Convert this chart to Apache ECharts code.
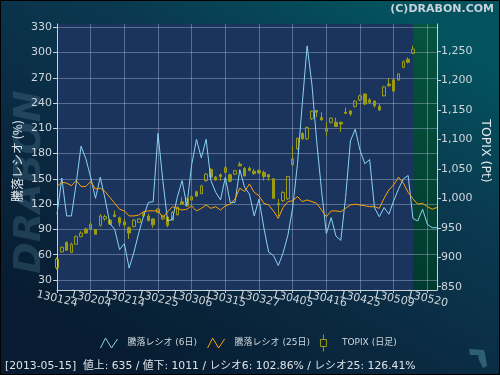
<!DOCTYPE html>
<html>
<head>
<meta charset="utf-8">
<script src="https://cdn.jsdelivr.net/npm/echarts@6/dist/echarts.min.js"></script>
<style>html,body{margin:0;padding:0;background:#081d30;}#c{width:500px;height:375px;}</style>
</head>
<body>
<div id="c"></div>
<script>
// ---- data ----
const dates = ['130124','130125','130128','130129','130130','130131','130201','130204','130205','130206','130207','130208','130212','130213','130214','130215','130218','130219','130220','130221','130222','130225','130226','130227','130228','130301','130304','130305','130306','130307','130308','130311','130312','130313','130314','130315','130318','130319','130321','130322','130325','130326','130327','130328','130329','130401','130402','130403','130404','130405','130408','130409','130410','130411','130412','130415','130416','130417','130418','130419','130422','130423','130424','130425','130426','130430','130501','130502','130507','130508','130509','130510','130513','130514','130515','130516','130517','130520','130521','130522'];
const ratio6 = [108,151,106,106,145,189,174,152,127,152,126,97,90,66,73,44,63,86,106,122,123,204,148,100,102,128,148,118,167,197,175,197,148,134,125,152,122,122,161,140,132,106,126,92,63,59,47,62,83,116,168,240,308,262,194,136,85,104,82,77,128,195,209,184,168,173,116,105,116,108,124,138,150,154,103,100,114,96,92,92];
const ratio25 = [141,146,145,142,148,141,141,147,138,139,135,128,121,114,112,106,106,107,111,112,112,112,104,111,117,115,113,114,118,112,115,119,115,117,113,118,120,126,139,135,144,134,130,121,119,112,103,116,123,124,129,123,125,123,121,113,105,112,112,111,115,119,120,119,118,117,117,115,127,137,143,152,145,134,126.4,120,121,117,114,116];
// TOPIX daily: [open, close, low, high]
const topix = [
[882,897,879,900],[909,917,908,918],[925,912,911,927],[908,922,908,925],[922,935,922,937],
[935,941,934,944],[948,941,940,950],[948,956,947,959],[947,939,939,948],[954,970,952,973],
[965,969,962,972],[963,956,955,965],[972,969,969,979],[967,958,952,969],[960,955,951,965],
[950,941,931,952],[952,963,951,965],[959,965,958,966],[970,974,969,977],[970,962,961,974],
[965,955,950,966],[976,982,975,983],[965,970,963,972],[968,954,951,969],[963,976,962,978],
[972,985,971,986],[994,990,990,1002],[987,999,986,1000],[997,1003,996,1005],[1011,1004,1002,1013],
[1008,1021,1007,1023],[1030,1041,1028,1043],[1049,1036,1034,1051],[1036,1031,1030,1038],[1040,1037,1030,1042],
[1044,1052,1042,1055],[1040,1029,1027,1042],[1041,1047,1040,1048],[1058,1055,1055,1062],[1051,1038,1037,1053],
[1051,1047,1046,1054],[1046,1042,1040,1050],[1047,1043,1042,1049],[1044,1037,1030,1047],[1040,1036,1030,1041],
[1033,1000,999,1034],[991,989,970,999],[996,1010,994,1012],[999,1037,997,1038],[1057,1067,1055,1089],
[1084,1102,1082,1103],[1110,1101,1099,1112],[1101,1120,1099,1122],[1135,1148,1133,1149],[1149,1146,1138,1150],
[1137,1133,1132,1146],[1114,1119,1106,1129],[1129,1136,1127,1137],[1129,1122,1121,1137],[1129,1126,1113,1130],
[1146,1144,1143,1154],[1148,1143,1140,1150],[1156,1165,1154,1166],[1167,1174,1165,1176],[1177,1160,1158,1178],
[1167,1163,1160,1170],[1165,1157,1154,1166],[1156,1150,1148,1160],[1174,1189,1173,1191],[1194,1191,1189,1204],
[1201,1182,1180,1202],[1201,1211,1199,1212],[1222,1232,1221,1234],[1236,1231,1229,1239],[1246,1253,1246,1259]
];
const dateTicksA = [0,14,28,42,56,70];   // labelled dates (first set)
const dateTicksB = [7,21,35,49,63,77];   // labelled dates (second set)
const leftTicks = [30,60,90,120,150,180,210,240,270,300,330];
const rightTicks = [850,900,950,1000,1050,1100,1150,1200,1250];
const lastDate = '130515';
const footerText = '[2013-05-15]  値上: 635 / 値下: 1011 / レシオ6: 102.86% / レシオ25: 126.41%';
const seriesNames = ['騰落レシオ (6日)', '騰落レシオ (25日)', 'TOPIX (日足)'];

// ---- style ----
const FONT = "'DejaVu Sans', 'Noto Sans CJK JP', sans-serif";
const TXT = '#cfd6dc';
const AXIS = '#c8d0d8';
const GRIDC = 'rgba(190,205,230,0.38)';
const C6 = '#8ad2f2', C25 = '#ffa200', CK = '#9c9c12';

const xLabel = (set) => ({interval:(i) => set.indexOf(i) >= 0, hideOverlap:false,
  rotate:-13, align:'center', verticalAlign:'middle', margin:9, color:TXT, fontSize:11, fontFamily:FONT});

const chart = echarts.init(document.getElementById('c'), null, {renderer:'canvas', width:500, height:375});
chart.setOption({
  animation: false,
  backgroundColor: {type:'linear', x:0.75, y:0, x2:0.3, y2:1, colorStops:[
    {offset:0, color:'#03525e'}, {offset:0.3, color:'#0a3a50'}, {offset:0.65, color:'#0a2a42'}, {offset:1, color:'#071c30'}]},
  grid: {left:57, right:63, top:24, bottom:85, containLabel:false},
  legend: {
    left: 95, top: 329, padding: 5, itemWidth: 17, itemHeight: 17, itemGap: 10,
    textStyle: {color: TXT, fontSize: 9, fontFamily: FONT, padding:[0,0,0,5]},
    data: [
      {name: seriesNames[0], icon:'path://M0,10 L5,0 L11,10 L17,1', itemStyle:{color:'rgba(0,0,0,0)', borderColor:C6, borderWidth:1}},
      {name: seriesNames[1], icon:'path://M0,10 L5,0 L11,10 L17,1', itemStyle:{color:'rgba(0,0,0,0)', borderColor:C25, borderWidth:1}},
      {name: seriesNames[2], icon:'path://M3,0 L3,5 M0,5 L6,5 L6,12 L0,12 Z M3,12 L3,17', itemStyle:{color:'rgba(0,0,0,0)', borderColor:CK, borderWidth:1}}
    ]
  },
  xAxis: [
    {type:'category', data: dates, boundaryGap:false, position:'bottom',
     axisLine:{show:true, lineStyle:{color:AXIS, width:1}},
     axisTick:{show:true, interval:6, length:3, lineStyle:{color:AXIS}},
     axisLabel: xLabel(dateTicksA),
     splitLine:{show:true, interval:6, lineStyle:{color:GRIDC, width:1}}},
    {type:'category', data: dates, boundaryGap:false, position:'bottom', offset:0,
     axisLine:{show:false}, axisTick:{show:false}, splitLine:{show:false},
     axisLabel: xLabel(dateTicksB)}
  ],
  yAxis: [
    {type:'value', position:'left', min:18, max:334,
     axisLine:{show:true, lineStyle:{color:AXIS}},
     axisTick:{show:true, length:4, customValues:leftTicks, lineStyle:{color:AXIS}},
     axisLabel:{customValues:leftTicks, color:TXT, fontSize:11, fontFamily:FONT, margin:5},
     splitLine:{show:true, lineStyle:{color:GRIDC, width:1}}},
    {type:'value', position:'right', min:844.4, max:1295.8,
     axisLine:{show:true, lineStyle:{color:AXIS}},
     axisTick:{show:true, length:4, customValues:rightTicks, lineStyle:{color:AXIS}},
     axisLabel:{customValues:rightTicks, color:TXT, fontSize:11, fontFamily:FONT, margin:4,
       formatter: v => v.toLocaleString('en-US')},
     splitLine:{show:false}}
  ],
  series: [
    {name: seriesNames[0], type:'line', xAxisIndex:0, yAxisIndex:0, data: ratio6, symbol:'none',
     lineStyle:{color:C6, width:1}, itemStyle:{color:C6},
     markArea:{silent:true, z:-1, label:{show:false},
       data:[
         [{xAxis: dates[0], itemStyle:{color:'#1b345e'}}, {xAxis: lastDate}],
         [{xAxis: lastDate, itemStyle:{color:{type:'linear',x:0,y:0,x2:0,y2:1,colorStops:[{offset:0,color:'#06533f'},{offset:1,color:'#013a2f'}]}}}, {xAxis: dates[dates.length-1]}]
       ]}},
    {name: seriesNames[1], type:'line', xAxisIndex:0, yAxisIndex:0, data: ratio25, symbol:'none',
     lineStyle:{color:C25, width:1}, itemStyle:{color:C25}},
    {name: seriesNames[2], type:'candlestick', xAxisIndex:0, yAxisIndex:1, data: topix, barWidth:3,
     itemStyle:{color:'rgba(0,0,0,0)', color0:CK, borderColor:CK, borderColor0:CK, borderWidth:1}}
  ],
  graphic: [
    {type:'text', x:30, y:182, rotation:Math.PI/2, z:-5, silent:true,
     style:{text:'DRABON', align:'center', verticalAlign:'middle', font:"italic bold 38px 'DejaVu Sans'", fill:'rgba(95,140,160,0.28)'}},
    {type:'text', x:494, y:9, silent:true,
     style:{text:'(C)DRABON.COM', align:'right', verticalAlign:'middle', font:"bold 11px 'DejaVu Sans'", fill:'#c8d2da'}},
    {type:'text', x:17, y:161, rotation:Math.PI/2, silent:true,
     style:{text:'騰落レシオ (%)', align:'center', verticalAlign:'middle', font:"12px 'Noto Sans CJK JP', 'DejaVu Sans'", fill:'#e2e8ec'}},
    {type:'text', x:485, y:151, rotation:-Math.PI/2, silent:true,
     style:{text:'TOPIX (Pt)', align:'center', verticalAlign:'middle', font:"12.5px 'DejaVu Sans'", fill:'#e2e8ec'}},
    {type:'text', x:5, y:366, silent:true,
     style:{text: footerText, align:'left', verticalAlign:'middle', font:"10.8px 'DejaVu Sans', 'Noto Sans CJK JP'", fill:'#dde3e8'}},
    {type:'polygon', silent:true, shape:{points:[[469,349],[484,350],[485,353],[487,366],[483,368],[479,360],[478,355],[470,355]]},
     style:{fill:'#2f5f73'}},
    {type:'rect', silent:true, z:100, shape:{x:0.5,y:0.5,width:499,height:374}, style:{fill:'none', stroke:'#000', lineWidth:1}}
  ]
});
</script>
</body>
</html>
